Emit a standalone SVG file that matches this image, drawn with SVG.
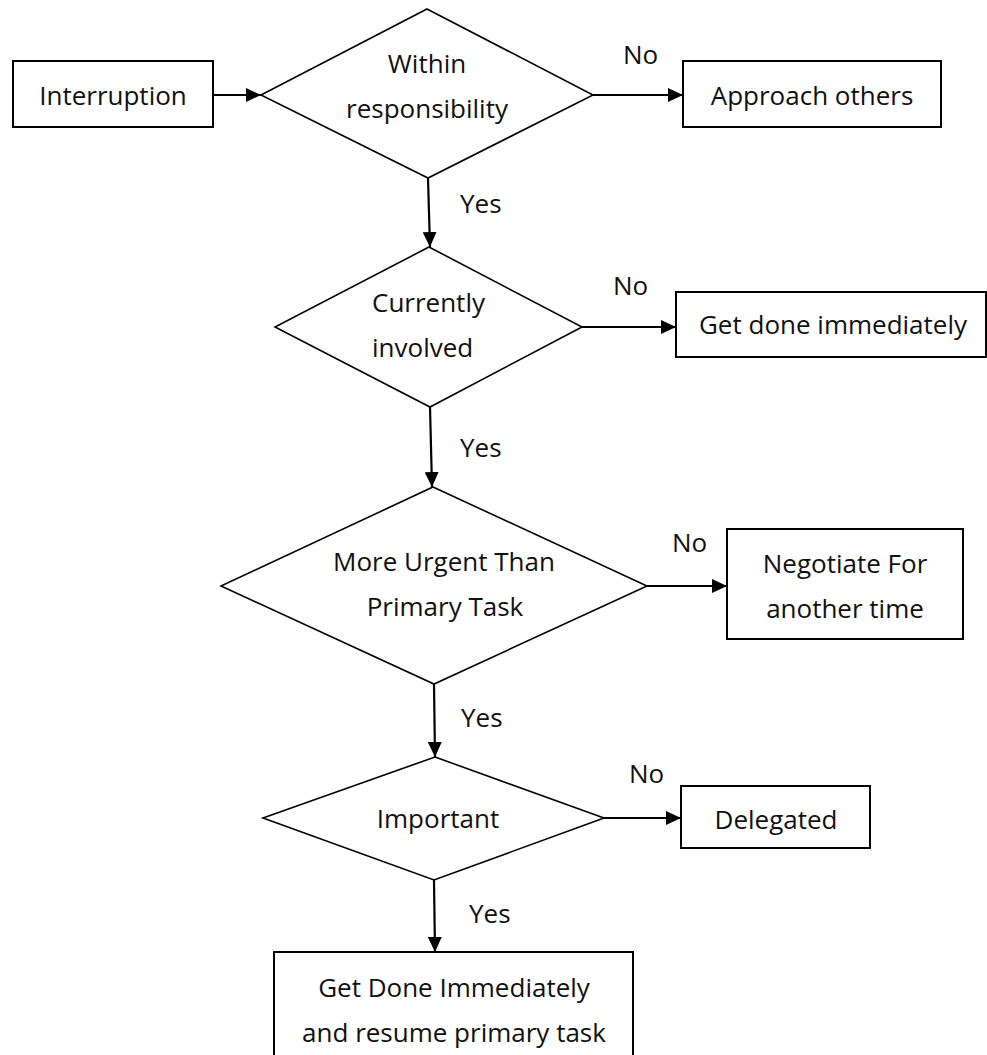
<svg xmlns="http://www.w3.org/2000/svg" width="987" height="1055" viewBox="0 0 987 1055">
  <defs>
    <marker id="arrow" markerUnits="userSpaceOnUse" markerWidth="16" markerHeight="14" refX="15" refY="7" orient="auto">
      <path d="M0,0 L15,7 L0,14 Z" fill="#000"/>
    </marker>
    <style>
      .box { fill: #fff; stroke: #000; stroke-width: 2; }
      .dec { fill: #fff; stroke: #000; stroke-width: 1.6; }
      .lbl { font-family: "Open Sans", "Noto Sans", sans-serif; font-size: 26px; fill: #111; }
      .mid { text-anchor: middle; }
      .edge { stroke: #000; stroke-width: 2.2; fill: none; marker-end: url(#arrow); }
    </style>
  </defs>
  <rect width="987" height="1055" fill="#fff"/>

  <g id="connectors">
    <line class="edge" x1="213" y1="95" x2="261" y2="95"/>
    <line class="edge" x1="593" y1="95" x2="683" y2="95"/>
    <line class="edge" x1="428" y1="178" x2="430" y2="247"/>
    <line class="edge" x1="582" y1="327" x2="676" y2="327"/>
    <line class="edge" x1="430" y1="407" x2="432" y2="487"/>
    <line class="edge" x1="647" y1="586" x2="727" y2="586"/>
    <line class="edge" x1="434" y1="684" x2="435" y2="757"/>
    <line class="edge" x1="604" y1="818" x2="681" y2="818"/>
    <line class="edge" x1="434" y1="880" x2="435" y2="952"/>
  </g>

  <g id="edge-labels" class="lbl">
    <text x="623" y="64">No</text>
    <text x="460" y="213">Yes</text>
    <text x="613" y="295">No</text>
    <text x="460" y="457">Yes</text>
    <text x="672" y="552">No</text>
    <text x="461" y="727">Yes</text>
    <text x="629" y="783">No</text>
    <text x="469" y="923">Yes</text>
  </g>

  <g id="interruption">
    <rect class="box" x="13" y="61" width="200" height="66"/>
    <text class="lbl mid" x="113" y="105">Interruption</text>
  </g>

  <g id="within-responsibility">
    <polygon class="dec" points="427,9 593,95 428,178 261,95"/>
    <text class="lbl mid" x="427" y="73">Within</text>
    <text class="lbl mid" x="427" y="118">responsibility</text>
  </g>

  <g id="approach-others">
    <rect class="box" x="683" y="61" width="258" height="66"/>
    <text class="lbl mid" x="812" y="105">Approach others</text>
  </g>

  <g id="currently-involved">
    <polygon class="dec" points="429,247 582,327 430,407 275,327"/>
    <text class="lbl" x="372" y="312">Currently</text>
    <text class="lbl" x="372" y="357">involved</text>
  </g>

  <g id="get-done-now">
    <rect class="box" x="676" y="292" width="310" height="65"/>
    <text class="lbl mid" x="833" y="334">Get done immediately</text>
  </g>

  <g id="more-urgent">
    <polygon class="dec" points="433,487 647,586 434,684 221,586"/>
    <text class="lbl mid" x="444" y="571">More Urgent Than</text>
    <text class="lbl mid" x="445" y="616">Primary Task</text>
  </g>

  <g id="negotiate">
    <rect class="box" x="727" y="529" width="236" height="110"/>
    <text class="lbl mid" x="845" y="573">Negotiate For</text>
    <text class="lbl mid" x="845" y="618">another time</text>
  </g>

  <g id="important">
    <polygon class="dec" points="435,757 604,818 434,880 263,818"/>
    <text class="lbl mid" x="438" y="828">Important</text>
  </g>

  <g id="delegated">
    <rect class="box" x="681" y="786" width="189" height="62"/>
    <text class="lbl mid" x="776" y="829">Delegated</text>
  </g>

  <g id="resume-primary">
    <rect class="box" x="274" y="952" width="359" height="110"/>
    <text class="lbl mid" x="454" y="997">Get Done Immediately</text>
    <text class="lbl mid" x="454" y="1042">and resume primary task</text>
  </g>
</svg>
